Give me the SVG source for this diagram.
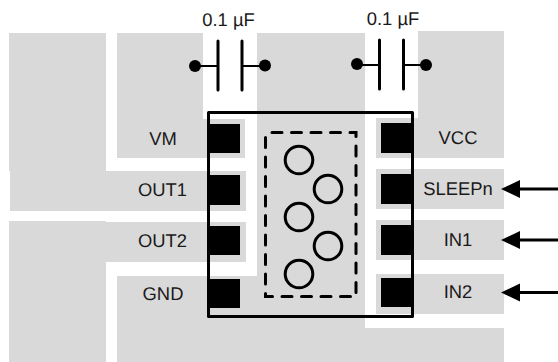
<svg xmlns="http://www.w3.org/2000/svg" width="558" height="362" viewBox="0 0 558 362">
<style>
.cu{fill:#d9d9d9}
.pad{fill:#000}
.v{fill:#000;stroke:none}
.c{fill:none;stroke:#000;stroke-width:3}
.l{stroke:#000;stroke-width:3;fill:none;stroke-linecap:round}
.w{stroke:#000;stroke-width:2;fill:none}
.d{fill:none;stroke:#000;stroke-width:3;stroke-linecap:round;stroke-dasharray:10 9.500}
text{font-family:"Liberation Sans",Arial,sans-serif;font-size:18.400px;fill:#1a1a1a;text-anchor:middle;text-rendering:geometricPrecision}
</style>
<rect width="558" height="362" fill="#fff"/>
<g id="copper">
<path class="cu" d="M9 33H106V171H246V211H10V171H9Z"/>
<path class="cu" d="M9 221H106V222H246V262H106V362H9Z"/>
<path class="cu" d="M117 33H203V119H245V158H117Z"/>
<path class="cu" d="M257 33H365V328H504V362H117V276H257Z"/>
<path class="cu" d="M418 31H504V158H376V118H418Z"/>
</g>
<g id="node-sleepn"><rect class="cu" x="376" y="169" width="128" height="40"/><rect class="pad" x="381" y="174" width="32" height="30"/><text x="458" y="195">SLEEPn</text></g>
<g id="node-in1"><rect class="cu" x="376" y="220" width="128" height="40"/><rect class="pad" x="381" y="225" width="32" height="30"/><text x="458" y="246">IN1</text></g>
<g id="node-in2"><rect class="cu" x="376" y="274" width="128" height="40"/><rect class="pad" x="381" y="278" width="32" height="29"/><text x="458" y="298">IN2</text></g>
<g id="node-vcc"><rect class="pad" x="381" y="123" width="32" height="30"/><text x="458" y="144">VCC</text></g>
<g id="node-vm"><rect class="pad" x="208" y="124" width="32" height="29"/><text x="163" y="145">VM</text></g>
<g id="node-out1"><rect class="pad" x="208" y="175" width="32" height="30"/><text x="162.500" y="196">OUT1</text></g>
<g id="node-out2"><rect class="pad" x="208" y="226" width="32" height="29"/><text x="162.500" y="247">OUT2</text></g>
<g id="node-gnd"><rect class="pad" x="208" y="279" width="32" height="29"/><text x="163" y="300">GND</text></g>
<g id="node-package">
<rect class="c" x="208.500" y="112.500" width="204" height="204" style="stroke-linejoin:round"/>
<path class="d" d="M272 132.500H356V296.500H265.500V132.500"/>
<circle class="c" cx="299" cy="160" r="13.800"/>
<circle class="c" cx="328" cy="189" r="13.800"/>
<circle class="c" cx="299" cy="217" r="13.800"/>
<circle class="c" cx="328" cy="246" r="13.800"/>
<circle class="c" cx="299" cy="274" r="13.800"/>
</g>
<g id="node-cap1">
<text x="228.500" y="26">0.1 µF</text>
<path class="l" d="M218 41V90M242 41V90"/>
<path class="w" d="M195 66H218M242 66H265"/>
<circle class="v" cx="195" cy="66" r="6"/><circle class="v" cx="265" cy="65.500" r="6"/>
</g>
<g id="node-cap2">
<text x="393" y="25">0.1 µF</text>
<path class="l" d="M379.500 40V89M403.500 40V89"/>
<path class="w" d="M357 65H379M403 65H426"/>
<circle class="v" cx="357" cy="64" r="6"/><circle class="v" cx="426" cy="65" r="6"/>
</g>
<g id="connectors">
<path class="c" d="M519 189H558M519 240H558M519 292.500H558"/>
<path class="v" d="M501 189L520 180V198ZM501 240L520 231V249ZM501 292.500L520 283.500V301.500Z"/>
</g>
</svg>
